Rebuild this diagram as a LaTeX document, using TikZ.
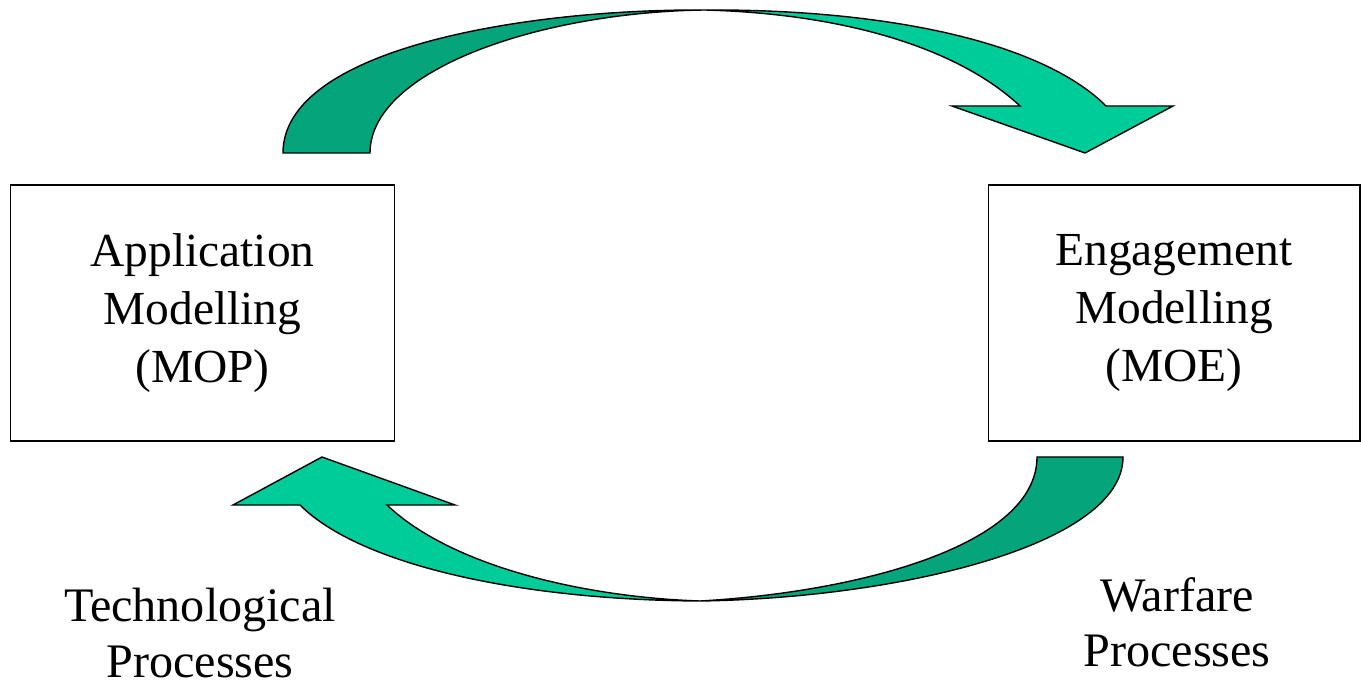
\documentclass[tikz,border=0pt]{standalone}
\usepackage{fontspec}
\setmainfont{Liberation Serif}
\definecolor{tealdark}{RGB}{4, 165, 122}
\definecolor{teallight}{RGB}{0, 204, 153}
\usetikzlibrary{positioning}

\begin{document}
\begin{tikzpicture}[
  x=0.02cm, y=-0.02cm,
  modelbox/.style={draw, line width=0.6pt, minimum width=7.7cm, minimum height=5.12cm, align=center, font=\fontsize{27}{33}\selectfont},
  proclabel/.style={align=center, font=\fontsize{27.4}{31.5}\selectfont},
  blockarrow/.style={draw, line width=0.8pt, line join=miter}
]
  \useasboundingbox (0,0) rectangle (1361,688);

  \node[modelbox] (app) at (202.5, 313) {Application\\Modelling\\(MOP)};
  \node[modelbox, minimum width=7.44cm] (eng) at (1174, 313) {Engagement\\Modelling\\(MOE)};

  \node[proclabel] (tech) at (200, 633) {Technological\\Processes};
  \node[proclabel] (warf) at (1177, 622) {Warfare\\Processes};

  % top arrow: MOP -> MOE
  \coordinate (topmid) at (705, 10);
  \filldraw[blockarrow, fill=tealdark] (283,153) -- (370,153)
    .. controls (370,70) and (540,12) .. (topmid)
    .. controls (520,9) and (283,50) .. cycle;
  \filldraw[blockarrow, fill=teallight] (topmid)
    .. controls (880,9) and (1040,40) .. (1106,106)
    -- (1173,106) -- (1085,153) -- (952,106) -- (1020,106)
    .. controls (960,50) and (850,14) .. cycle;

  % bottom arrow: MOE -> MOP
  \coordinate (botmid) at (700, 601);
  \filldraw[blockarrow, fill=tealdark] (1037,457) -- (1123,457)
    .. controls (1123,545) and (900,598) .. (botmid)
    .. controls (860,592) and (1037,545) .. cycle;
  \filldraw[blockarrow, fill=teallight] (botmid)
    .. controls (520,600) and (360,565) .. (300,505)
    -- (233,505) -- (322,457) -- (455,505) -- (387,505)
    .. controls (450,565) and (580,597) .. cycle;
\end{tikzpicture}
\end{document}
